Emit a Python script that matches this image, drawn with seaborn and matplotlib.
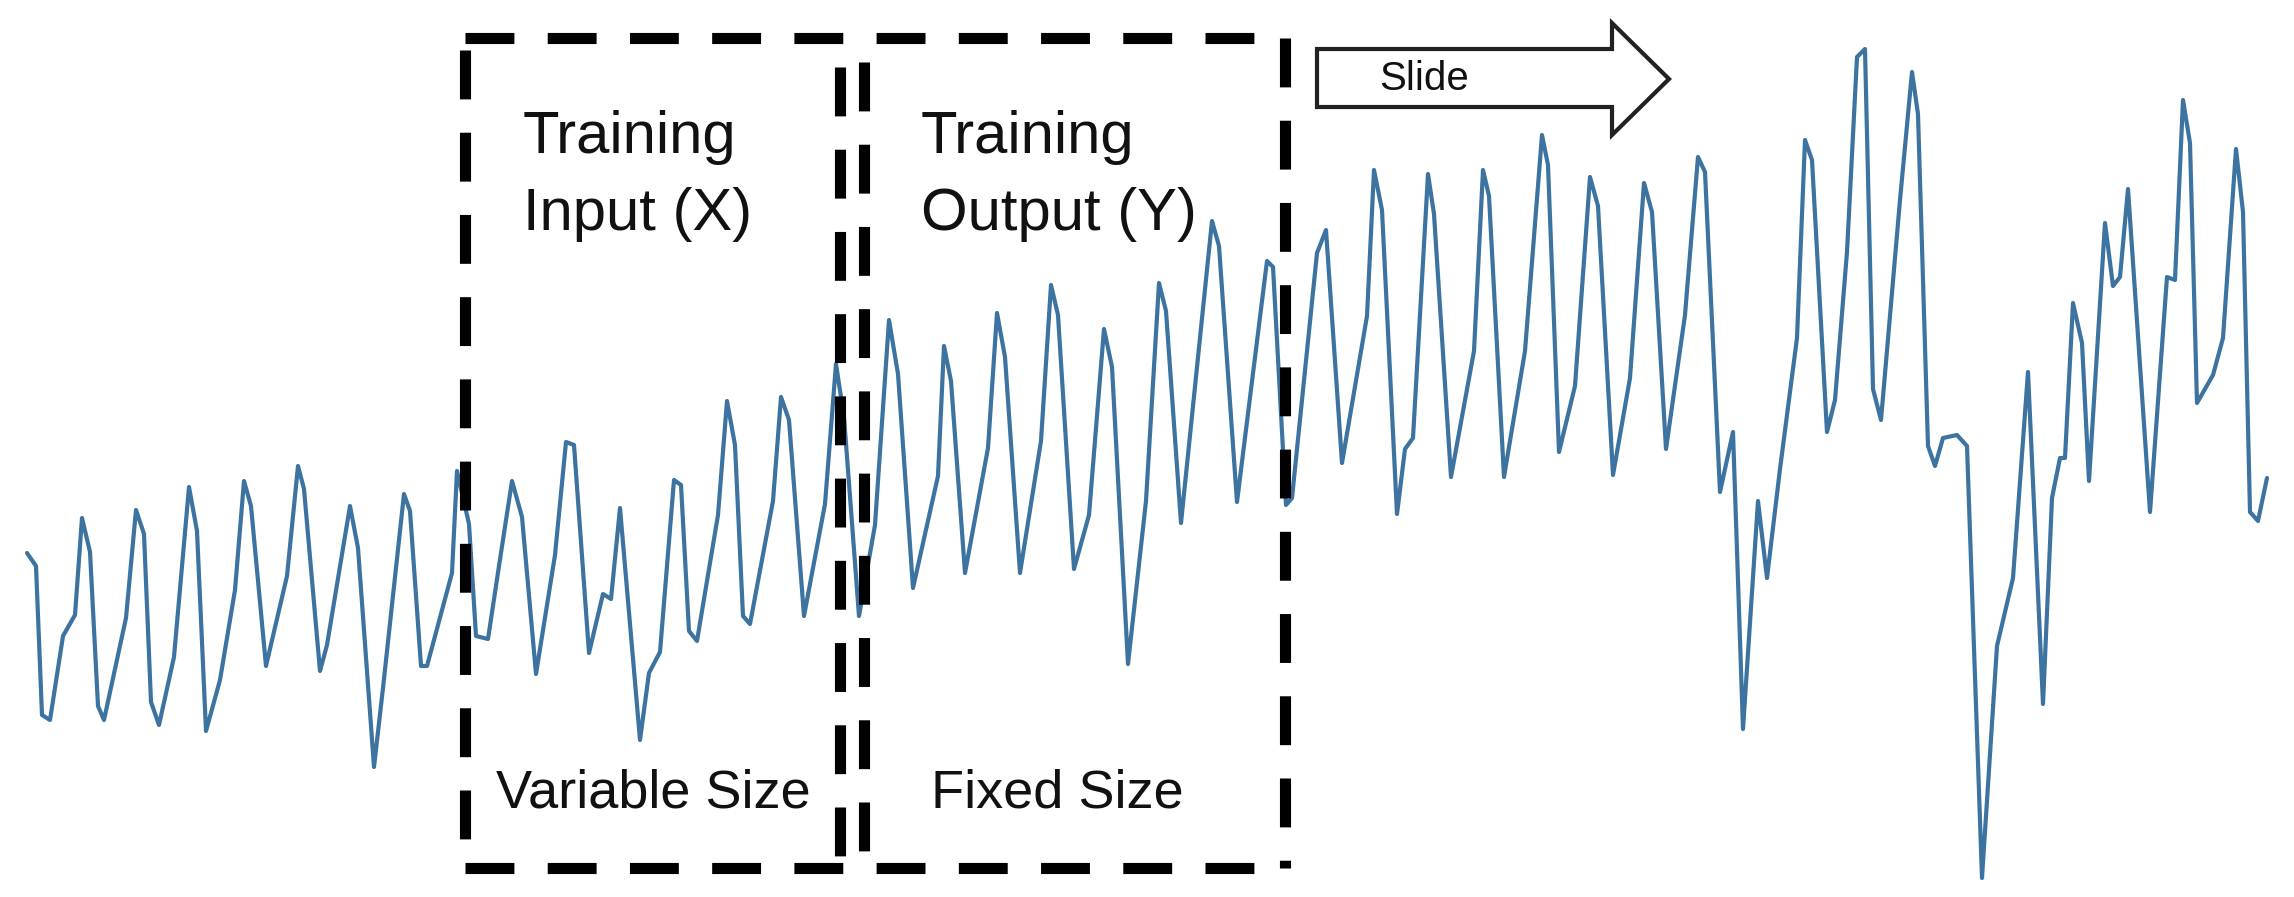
import matplotlib
matplotlib.use("Agg")
import matplotlib.pyplot as plt
import seaborn as sns
import pandas as pd
from matplotlib.patches import Polygon

# time index and signal level (level, axis inverted: smaller = higher)
time = [27, 36, 42, 50, 63, 75, 82, 90, 98, 104, 126, 136, 144, 151, 159, 174, 189, 197, 206, 220,
        235, 244, 251, 266, 287, 298, 304, 320, 327, 350, 358, 374, 383, 404, 410, 421, 427, 452, 457, 469,
        476, 488, 499, 512, 522, 536, 555, 566, 574, 589, 603, 611, 620, 640, 649, 660, 674, 681, 689, 697,
        718, 727, 735, 743, 750, 773, 781, 789, 804, 825, 836, 844, 859, 875, 889, 898, 913, 938, 944, 951,
        965, 988, 997, 1005, 1020, 1041, 1051, 1058, 1074, 1089, 1104, 1112, 1128, 1146, 1159, 1166, 1181, 1212, 1219, 1237,
        1267, 1273, 1286, 1292, 1317, 1326, 1342, 1367, 1374, 1382, 1397, 1405, 1413, 1428, 1434, 1451, 1474, 1483, 1489, 1504,
        1525, 1542, 1548, 1559, 1575, 1590, 1598, 1613, 1630, 1644, 1652, 1666, 1685, 1698, 1705, 1720, 1733, 1743, 1758, 1767,
        1780, 1797, 1805, 1812, 1827, 1835, 1847, 1857, 1865, 1873, 1881, 1900, 1912, 1918, 1928, 1935, 1943, 1957, 1967, 1982,
        1997, 2013, 2028, 2043, 2052, 2060, 2065, 2073, 2082, 2089, 2105, 2113, 2120, 2128, 2150, 2167, 2175, 2183, 2190, 2197,
        2213, 2223, 2236, 2243, 2250, 2258, 2267]
level = [553, 566, 715, 720, 636, 615, 518, 552, 706, 720, 618, 510, 534, 702, 725, 657, 487, 531, 731, 680,
         590, 481, 506, 666, 576, 466, 489, 671, 645, 506, 548, 767, 688, 494, 511, 666, 666, 573, 471, 524,
         636, 639, 566, 481, 517, 674, 555, 442, 445, 653, 594, 599, 508, 740, 673, 652, 480, 485, 631, 641,
         515, 401, 445, 616, 624, 501, 397, 420, 616, 504, 364, 417, 616, 525, 320, 374, 588, 476, 346, 381,
         573, 448, 313, 357, 573, 441, 285, 315, 569, 515, 329, 367, 664, 501, 283, 311, 523, 221, 246, 502,
         261, 267, 505, 498, 253, 230, 463, 316, 170, 210, 514, 449, 438, 174, 214, 477, 351, 170, 196, 477,
         351, 135, 165, 452, 386, 177, 206, 475, 378, 183, 212, 449, 315, 157, 172, 492, 432, 729, 501, 578,
         469, 338, 140, 160, 432, 400, 252, 57, 49, 389, 420, 200, 72, 114, 446, 466, 438, 435, 446, 878,
         646, 578, 372, 704, 498, 458, 458, 303, 343, 481, 223, 286, 277, 189, 512, 277, 280, 100, 143, 403,
         375, 338, 149, 212, 512, 521, 478]

box_labels_top = [("Training", "Input (X)"), ("Training", "Output (Y)")]
box_labels_bottom = ["Variable Size", "Fixed Size"]
arrow_label = "Slide"

sns.set_theme(style="white")
plt.rcParams['font.family'] = ['Liberation Sans', 'DejaVu Sans']

fig = plt.figure(figsize=(22.94, 8.97), dpi=100)
ax = fig.add_axes([0, 0, 1, 1])
df = pd.DataFrame({"time": time, "level": level})
sns.lineplot(data=df, x="time", y="level", sort=False, ax=ax, color="#3d73a0", linewidth=3)
ax.set_xlim(0, 2294)
ax.set_ylim(897, 0)
ax.axis("off")

dash = dict(color="black", linewidth=8, linestyle=(0, (4.4, 3.0)), solid_capstyle="butt",
            dash_capstyle="butt", zorder=3)
ax.plot([465, 1285], [38, 38], **dash)
ax.plot([465, 1285], [868, 868], **dash)
ax.plot([465, 465], [50, 868], **dash)
ax.plot([1285, 1285], [38, 868], **dash)
ax.plot([840, 840], [67, 868], **dash)
ax.plot([864, 864], [62, 868], **dash)

tk = dict(fontsize=43, color="#111111", ha="left", va="baseline")
ax.text(523, 153, box_labels_top[0][0], **tk)
ax.text(523, 230, box_labels_top[0][1], **tk)
ax.text(921, 153, box_labels_top[1][0], **tk)
ax.text(921, 230, box_labels_top[1][1], **tk)
bk = dict(fontsize=39, color="#111111", ha="left", va="baseline")
ax.text(496, 807, box_labels_bottom[0], **bk)
ax.text(931, 807, box_labels_bottom[1], **bk)

arrow = Polygon([(1317, 49), (1612, 49), (1612, 23), (1669, 79), (1612, 135), (1612, 107), (1317, 107)],
                closed=True, facecolor="white", edgecolor="#222222", linewidth=3, zorder=4)
ax.add_patch(arrow)
ax.text(1424, 79, arrow_label, fontsize=29, color="#111111", ha="center", va="center", zorder=5)

fig.savefig("out.png", dpi=100)
